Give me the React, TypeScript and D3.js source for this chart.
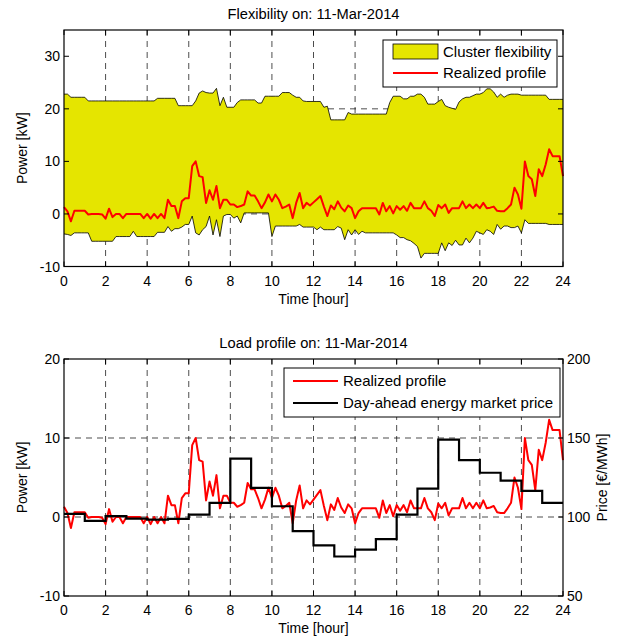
import React, { useEffect, useRef } from "react";
import * as d3 from "d3";

// 10-minute samples from 00:00 to 24:00 (145 values), kW
const realized = [
  1.3, 0.5, -1.4, 0.6, 0.6, 0.6, 0.6, -0.1, 0, 0,
  0, -0.1, -0.9, 1.0, -0.6, 0, 0, -0.8, 0, 0,
  0, 0, 0, -0.8, 0, -0.9, 0, -0.8, 0, -0.8,
  2.7, 1.5, 1.5, -0.8, 2.4, 3.0, 3.0, 9.1, 10.0, 7.2,
  7.0, 2.1, 4.5, 2.7, 5.3, 1.1, 2.7, 2.7, 1.8, 1.8,
  1.3, 1.5, 1.8, 4.3, 3.5, 3.5, 2.4, 1.1, 2.2, 3.7,
  2.4, 3.7, 2.7, 1.1, 1.4, 1.8, -0.8, 2.1, 4.0, 1.1,
  2.1, 1.6, 2.2, 2.8, 3.4, 1.4, -0.4, 1.6, 0.9, 2.4,
  1.2, 0.5, 1.6, 1.1, -0.8, 0.5, 1.1, 1.1, 1.1, 1.1,
  1.1, -0.1, 2.1, 0.5, 1.5, 0.1, 1.5, 0.8, 1.5, 0.6,
  2.1, 1.1, 1.1, 1.1, 2.4, 1.1, 0.6, -0.4, 1.7, 1.1,
  1.8, 0.2, 1.1, 1.1, 1.1, 2.4, 1.1, 1.8, 1.1, 1.8,
  1.1, 2.1, 1.1, 1.2, 1.4, 0.6, 0.5, 0.5, 1.1, 1.8,
  5.0, 3.7, 1.0, 10.0, 7.2, 6.6, 3.4, 8.5, 7.2, 9.4,
  12.3, 11.0, 11.0, 11.0, 7.2,
];

const flexUpper = [
  22.8, 22.8, 22.2, 22.2, 22.2, 22.2, 22.2, 21.5, 21.5, 21.5,
  21.5, 21.5, 21.5, 21.5, 21.5, 21.5, 21.5, 21.5, 21.5, 21.5,
  21.5, 21.5, 21.5, 21.5, 21.5, 21.5, 21.5, 22.0, 22.0, 22.0,
  22.0, 22.0, 22.0, 20.6, 20.6, 20.6, 20.6, 20.6, 21.5, 23.0,
  23.4, 23.1, 23.0, 23.0, 23.9, 20.6, 22.2, 20.3, 20.3, 20.3,
  21.2, 21.7, 21.7, 21.7, 21.7, 21.7, 21.1, 21.1, 22.4, 22.4,
  22.4, 22.4, 22.4, 23.1, 23.1, 23.1, 22.6, 22.2, 22.2, 21.5,
  21.4, 21.4, 21.4, 21.4, 21.4, 20.3, 20.5, 17.9, 17.9, 17.9,
  17.9, 17.9, 19.3, 19.0, 19.0, 19.0, 19.0, 19.0, 19.0, 19.0,
  19.0, 19.0, 19.0, 19.0, 21.2, 22.4, 22.4, 22.4, 21.9, 21.9,
  22.4, 22.4, 22.8, 22.8, 22.2, 20.9, 20.9, 20.9, 21.4, 21.8,
  20.6, 20.3, 20.1, 19.9, 21.3, 21.9, 22.2, 22.2, 22.5, 22.8,
  22.8, 23.1, 23.8, 23.8, 23.2, 22.2, 22.8, 22.2, 22.6, 22.8,
  22.8, 22.8, 22.6, 22.6, 22.6, 22.6, 22.6, 22.6, 22.6, 22.6,
  21.8, 21.8, 21.8, 21.8, 21.8,
];

const flexLower = [
  -3.8, -3.9, -4.1, -3.6, -3.6, -3.6, -3.6, -3.6, -5.2, -5.2,
  -5.2, -5.2, -5.2, -5.2, -5.2, -4.3, -4.3, -4.3, -4.3, -4.3,
  -3.3, -4.3, -4.3, -4.3, -4.3, -4.3, -4.3, -3.5, -3.5, -3.5,
  -2.4, -3.3, -2.8, -2.8, -2.5, -2.0, -2.0, -0.4, -3.6, -4.0,
  -3.0, -2.4, -0.4, -4.0, -1.1, -4.3, -0.4, -0.1, -0.1, -0.8,
  -0.4, -1.7, 0.2, 0.2, 0.2, 0.2, 0.2, 0.2, 0.2, 0.2,
  -4.3, -2.3, -2.3, -2.3, -2.3, -2.3, -2.3, -2.3, -2.0, -2.5,
  -2.5, -2.5, -2.5, -3.0, -2.5, -3.0, -3.0, -3.0, -3.0, -2.4,
  -2.7, -4.9, -3.0, -4.0, -3.0, -3.9, -3.3, -3.6, -3.6, -3.6,
  -3.6, -3.6, -3.6, -3.6, -3.6, -3.6, -4.0, -4.5, -4.5, -4.9,
  -5.1, -5.6, -6.2, -8.4, -7.5, -7.5, -7.5, -7.5, -7.5, -5.5,
  -7.0, -5.5, -6.0, -5.0, -5.9, -5.9, -4.6, -5.5, -4.6, -3.3,
  -3.6, -3.9, -3.0, -3.3, -3.9, -2.0, -2.9, -2.3, -2.3, -2.6,
  -2.6, -2.3, -3.6, -1.1, -1.8, -1.8, -1.8, -1.8, -1.8, -1.8,
  -2.0, -2.0, -2.0, -2.0, -2.0,
];

// hourly day-ahead price, €/MWh
const price = [
  102, 97.5, 100.6, 99, 98.3, 98.8, 101.5, 109, 137, 118.4, 106.8, 91,
  82, 75, 79.3, 86, 101.5, 118, 149, 136, 128, 123, 116.5, 109,
];

const hourTicks = [0, 2, 4, 6, 8, 10, 12, 14, 16, 18, 20, 22, 24];
const flexPowerTicks = [-10, 0, 10, 20, 30];
const loadPowerTicks = [-10, 0, 10, 20];
const priceTicks = [50, 100, 150, 200];

const FONT = "'Liberation Sans', Arial, Helvetica, sans-serif";

function App() {
  const ref = useRef<SVGSVGElement>(null);

  useEffect(() => {
    document.body.style.margin = "0";
    const svg = d3.select(ref.current);
    svg.selectAll("*").remove();

    const left = 64, right = 563;
    const hours = realized.map((_, i) => i / 6);
    const x = d3.scaleLinear().domain([0, 24]).range([left, right]);

    // dashed grid, drawn under the data
    function frame(g, y, yTicks, top, bottom) {
      const grid = g.append("g").attr("stroke", "#000").attr("stroke-width", 0.7)
        .attr("stroke-dasharray", "6,5");
      grid.selectAll(".vx").data(hourTicks.slice(1, -1)).enter().append("line")
        .attr("x1", d => x(d)).attr("x2", d => x(d))
        .attr("y1", top).attr("y2", bottom);
      grid.selectAll(".hy").data(yTicks.slice(1, -1)).enter().append("line")
        .attr("x1", left).attr("x2", right)
        .attr("y1", d => y(d)).attr("y2", d => y(d));
    }

    // box, inward ticks and labels
    function axes(g, y, yTicks, top, bottom, rightTicks = true) {
      const t = g.append("g").attr("stroke", "#000").attr("stroke-width", 1);
      hourTicks.forEach(h => {
        t.append("line").attr("x1", x(h)).attr("x2", x(h)).attr("y1", bottom).attr("y2", bottom - 5);
        t.append("line").attr("x1", x(h)).attr("x2", x(h)).attr("y1", top).attr("y2", top + 5);
      });
      yTicks.forEach(v => {
        t.append("line").attr("x1", left).attr("x2", left + 5).attr("y1", y(v)).attr("y2", y(v));
        if (rightTicks)
          t.append("line").attr("x1", right).attr("x2", right - 5).attr("y1", y(v)).attr("y2", y(v));
      });
      g.append("rect").attr("x", left).attr("y", top).attr("width", right - left)
        .attr("height", bottom - top).attr("fill", "none").attr("stroke", "#000").attr("stroke-width", 1.2);

      const labels = g.append("g").attr("font-family", FONT).attr("font-size", 14).attr("fill", "#000");
      hourTicks.forEach(h => {
        labels.append("text").attr("x", x(h)).attr("y", bottom + 19)
          .attr("text-anchor", "middle").text(h);
      });
      yTicks.forEach(v => {
        labels.append("text").attr("x", left - 4).attr("y", y(v) + 5)
          .attr("text-anchor", "end").text(v);
      });
      labels.append("text").attr("x", (left + right) / 2).attr("y", bottom + 37)
        .attr("text-anchor", "middle").text("Time [hour]");
      labels.append("text")
        .attr("transform", `translate(27,${(top + bottom) / 2}) rotate(-90)`)
        .attr("text-anchor", "middle").text("Power [kW]");
    }

    // ---------- Flexibility panel ----------
    const top1 = 30, bottom1 = 266.5;
    const y1 = d3.scaleLinear().domain([-10, 35]).range([bottom1, top1]);
    const g1 = svg.append("g");
    g1.append("text").attr("x", (left + right) / 2).attr("y", 19)
      .attr("text-anchor", "middle").attr("font-family", FONT).attr("font-size", 14.7)
      .text("Flexibility on: 11-Mar-2014");
    frame(g1, y1, flexPowerTicks, top1, bottom1);

    const band = d3.area<number>()
      .x((_, i) => x(hours[i]))
      .y0((_, i) => y1(flexLower[i]))
      .y1(d => y1(d));
    g1.append("path").datum(flexUpper).attr("d", band).attr("fill", "#e5e500");
    const edge = d3.line<number>().x((_, i) => x(hours[i])).y(d => y1(d));
    [flexUpper, flexLower].forEach(s => {
      g1.append("path").datum(s).attr("d", edge).attr("fill", "none")
        .attr("stroke", "#000").attr("stroke-width", 0.8);
    });
    g1.append("path").datum(realized).attr("d", edge).attr("fill", "none")
      .attr("stroke", "#ff0000").attr("stroke-width", 2).attr("stroke-linejoin", "round");
    axes(g1, y1, flexPowerTicks, top1, bottom1);

    // legend
    const l1 = g1.append("g").attr("font-family", FONT).attr("font-size", 15);
    l1.append("rect").attr("x", 383).attr("y", 40).attr("width", 174).attr("height", 47)
      .attr("fill", "#fff").attr("stroke", "#000").attr("stroke-width", 1);
    l1.append("rect").attr("x", 393).attr("y", 44).attr("width", 45).attr("height", 15)
      .attr("fill", "#e5e500").attr("stroke", "#000").attr("stroke-width", 0.8);
    l1.append("text").attr("x", 443).attr("y", 57).text("Cluster flexibility");
    l1.append("line").attr("x1", 393).attr("x2", 438).attr("y1", 73).attr("y2", 73)
      .attr("stroke", "#ff0000").attr("stroke-width", 2);
    l1.append("text").attr("x", 443).attr("y", 78).text("Realized profile");

    // ---------- Load profile panel ----------
    const top2 = 359, bottom2 = 596;
    const y2 = d3.scaleLinear().domain([-10, 20]).range([bottom2, top2]);
    const yp = d3.scaleLinear().domain([50, 200]).range([bottom2, top2]);
    const g2 = svg.append("g");
    g2.append("text").attr("x", (left + right) / 2).attr("y", 348)
      .attr("text-anchor", "middle").attr("font-family", FONT).attr("font-size", 14.7)
      .text("Load profile on: 11-Mar-2014");
    frame(g2, y2, loadPowerTicks, top2, bottom2);

    const line2 = d3.line<number>().x((_, i) => x(hours[i])).y(d => y2(d));
    g2.append("path").datum(realized).attr("d", line2).attr("fill", "none")
      .attr("stroke", "#ff0000").attr("stroke-width", 2).attr("stroke-linejoin", "round");

    const priceSteps = price.map((p, h) => [h, p] as [number, number]);
    priceSteps.push([24, price[price.length - 1]]);
    const step = d3.line<[number, number]>().x(d => x(d[0])).y(d => yp(d[1])).curve(d3.curveStepAfter);
    g2.append("path").datum(priceSteps).attr("d", step).attr("fill", "none")
      .attr("stroke", "#000").attr("stroke-width", 2.2);

    axes(g2, y2, loadPowerTicks, top2, bottom2, false);
    const rt = g2.append("g");
    priceTicks.forEach(p => {
      rt.append("line").attr("x1", right).attr("x2", right - 5).attr("y1", yp(p)).attr("y2", yp(p))
        .attr("stroke", "#000");
      rt.append("text").attr("x", right + 4).attr("y", yp(p) + 5)
        .attr("font-family", FONT).attr("font-size", 14).text(p);
    });
    rt.append("text")
      .attr("transform", `translate(607,${(top2 + bottom2) / 2}) rotate(-90)`)
      .attr("text-anchor", "middle").attr("font-family", FONT).attr("font-size", 14)
      .text("Price [€/MWh]");

    const l2 = g2.append("g").attr("font-family", FONT).attr("font-size", 15);
    l2.append("rect").attr("x", 284).attr("y", 368).attr("width", 276).attr("height", 49)
      .attr("fill", "#fff").attr("stroke", "#000").attr("stroke-width", 1);
    l2.append("line").attr("x1", 293).attr("x2", 338).attr("y1", 381).attr("y2", 381)
      .attr("stroke", "#ff0000").attr("stroke-width", 2);
    l2.append("text").attr("x", 343).attr("y", 386).text("Realized profile");
    l2.append("line").attr("x1", 293).attr("x2", 338).attr("y1", 403).attr("y2", 403)
      .attr("stroke", "#000").attr("stroke-width", 2.2);
    l2.append("text").attr("x", 343).attr("y", 408).text("Day-ahead energy market price");
  }, []);

  return <svg ref={ref} width={621} height={637} style={{ display: "block", background: "#fff" }} />;
}

export default App;
